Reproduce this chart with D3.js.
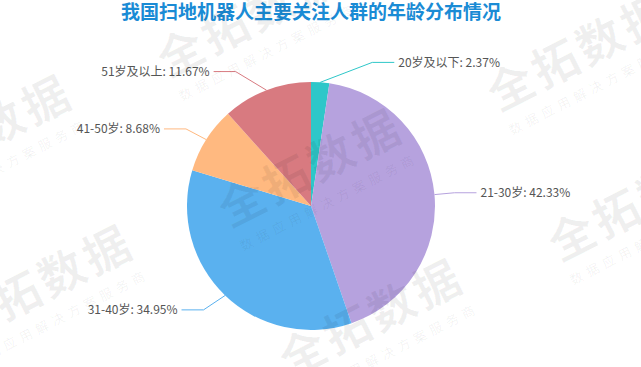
<!DOCTYPE html>
<html>
<head>
<meta charset="utf-8">
<script src="https://cdn.jsdelivr.net/npm/d3@7"></script>
<style>
  html, body { margin: 0; padding: 0; background: #fff; }
  svg { display: block; font-family: "Noto Sans CJK SC", "Noto Sans", sans-serif; }
</style>
</head>
<body>
<div id="chart"></div>
<script>
const WIDTH = 641;
const HEIGHT = 367;

// --------------- data ---------------
const title = "我国扫地机器人主要关注人群的年龄分布情况";
const categories = ["20岁及以下", "21-30岁", "31-40岁", "41-50岁", "51岁及以上"];
const shares = [2.37, 42.33, 34.95, 8.68, 11.67];
const colors = ["#2ec7c9", "#b6a2de", "#5ab1ef", "#ffb980", "#d87a80"];

// pie geometry, roughly as echarts lays it out
const CX = 311;
const CY = 206;
const RADIUS = 124;
const LINE_LEN = 20;
const LINE_LEN2 = 22;

const svg = d3
  .select("#chart")
  .append("svg")
  .attr("width", WIDTH)
  .attr("height", HEIGHT);

// title
svg
  .append("text")
  .attr("x", 311)
  .attr("y", 19)
  .attr("text-anchor", "middle")
  .attr("font-size", 19)
  .attr("font-weight", "bold")
  .attr("fill", "#1a8bd5")
  .text(title);

const pie = d3.pie().sort(null).value(d => d.value);
const arc = d3.arc().innerRadius(0).outerRadius(RADIUS);

const slices = pie(categories.map((c, i) => ({ name: c, value: shares[i], color: colors[i] })));

const g = svg.append("g").attr("transform", `translate(${CX},${CY})`);

g
  .selectAll("path")
  .data(slices)
  .enter()
  .append("path")
  .attr("d", arc)
  .attr("fill", d => d.data.color);

// label lines: radial segment then horizontal, x pushed out onto
// a circle of radius r + len + len2 (same trick echarts uses)
function labelLayout(d) {
  const mid = (d.startAngle + d.endAngle) / 2;
  const dx = Math.sin(mid);
  const dy = -Math.cos(mid);
  const side = dx < 0 ? -1 : 1;
  const x1 = RADIUS * dx, y1 = RADIUS * dy;
  let x2 = (RADIUS + LINE_LEN) * dx;
  const y2 = (RADIUS + LINE_LEN) * dy;
  let x3 = x2 + side * LINE_LEN2;
  const deltaY = Math.abs(y2);
  if (deltaY < RADIUS + LINE_LEN) {
    const R = RADIUS + LINE_LEN + LINE_LEN2;
    x3 = side * Math.sqrt(R * R - deltaY * deltaY);
    x2 = x3 - side * LINE_LEN2;
  }
  return { pts: [[x1, y1], [x2, y2], [x3, y2]], side: side };
}

const labels = g
  .selectAll("g.label")
  .data(slices)
  .enter()
  .append("g")
  .attr("class", "label");

labels
  .append("polyline")
  .attr("points", d => labelLayout(d).pts.map(p => p.join(",")).join(" "))
  .attr("fill", "none")
  .attr("stroke", d => d.data.color)
  .attr("stroke-width", 1);

labels
  .append("text")
  .attr("x", d => { const l = labelLayout(d); return l.pts[2][0] + l.side * 4; })
  .attr("y", d => labelLayout(d).pts[2][1])
  .attr("dy", "0.35em")
  .attr("text-anchor", d => labelLayout(d).side < 0 ? "end" : "start")
  .attr("font-size", 12)
  .attr("fill", "#555")
  .text(d => `${d.data.name}: ${d.data.value.toFixed(2)}%`);

// --------------- watermark tiles ---------------
const wm = svg.append("g").attr("pointer-events", "none");
const tileOrigin = [168, 78];
const tileA = [330, 34];
const tileB = [61, 150];
for (let i = -1; i <= 2; i++) {
  for (let j = -1; j <= 2; j++) {
    const x = tileOrigin[0] + i * tileA[0] + j * tileB[0];
    const y = tileOrigin[1] + i * tileA[1] + j * tileB[1];
    if (x > WIDTH || y < -20 || y > HEIGHT + 60 || x < -220) continue;
    const t = wm.append("g").attr("transform", `translate(${x},${y}) rotate(-27)`);
    t.append("text")
      .attr("font-size", 46)
      .attr("font-weight", "bold")
      .attr("letter-spacing", 4)
      .attr("fill", "#000")
      .attr("fill-opacity", 0.06)
      .text("全拓数据");
    t.append("text")
      .attr("x", 2)
      .attr("y", 27)
      .attr("font-size", 13)
      .attr("letter-spacing", 5)
      .attr("fill", "#000")
      .attr("fill-opacity", 0.06)
      .text("数据应用解决方案服务商");
  }
}
</script>
</body>
</html>
